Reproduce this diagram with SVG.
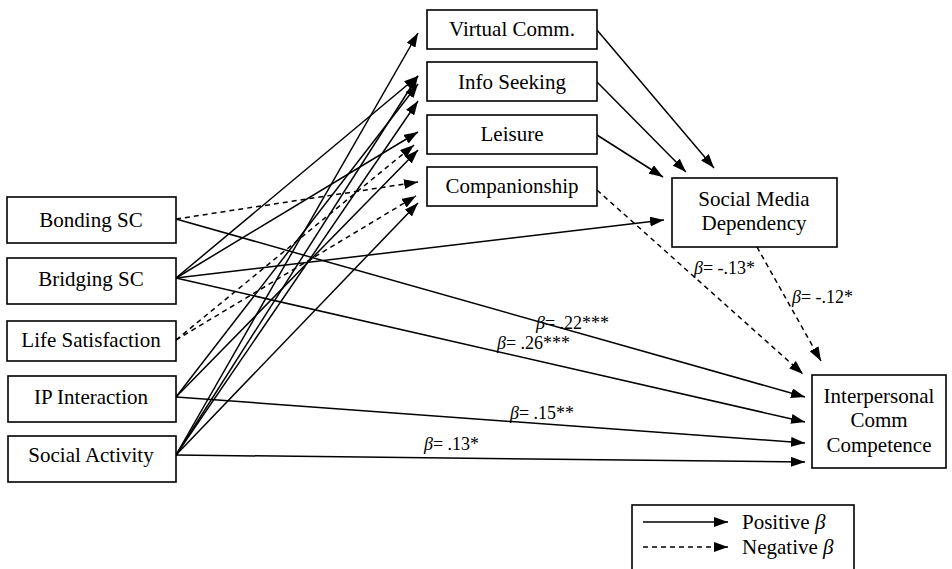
<svg xmlns="http://www.w3.org/2000/svg" width="952" height="569" viewBox="0 0 952 569">
<defs>
<marker id="ah" markerUnits="userSpaceOnUse" markerWidth="14" markerHeight="10" refX="14" refY="5" orient="auto">
<path d="M0,0 L14,5 L0,10 z" fill="#000"/>
</marker>
</defs>
<style>
.box{fill:#fff;stroke:#000;stroke-width:1.6}
.t{font-family:"Liberation Serif","Times New Roman",serif;font-size:21px;fill:#000;text-anchor:middle}
.lab{font-family:"Liberation Serif","Times New Roman",serif;font-size:18px;fill:#000}
.lg{font-family:"Liberation Serif","Times New Roman",serif;font-size:21px;fill:#000}
.b{font-style:italic}
.e{fill:none;stroke:#000;stroke-width:1.5;marker-end:url(#ah)}
.d{stroke-dasharray:5 4}
</style>
<rect width="952" height="569" fill="#fff"/>
<g id="connectors">
<line class="e d" x1="176" y1="219" x2="418" y2="182"/>
<line class="e" x1="176" y1="278" x2="418" y2="76"/>
<line class="e" x1="176" y1="278" x2="418" y2="132"/>
<line class="e d" x1="176" y1="340" x2="414" y2="145"/>
<line class="e d" x1="176" y1="340" x2="416" y2="196"/>
<line class="e" x1="176" y1="397" x2="418" y2="84"/>
<line class="e" x1="176" y1="397" x2="418" y2="150"/>
<line class="e" x1="176" y1="455" x2="418" y2="33"/>
<line class="e" x1="176" y1="455" x2="418" y2="76"/>
<line class="e" x1="176" y1="455" x2="418" y2="101"/>
<line class="e" x1="176" y1="455" x2="418" y2="203"/>
<line class="e" x1="597" y1="30" x2="714" y2="168"/>
<line class="e" x1="597" y1="82" x2="686" y2="172"/>
<line class="e" x1="597" y1="135" x2="663" y2="177"/>
<line class="e" x1="176" y1="278" x2="664" y2="220"/>
<line class="e d" x1="597" y1="190" x2="803" y2="374"/>
<line class="e d" x1="757" y1="247" x2="821" y2="361"/>
<line class="e" x1="176" y1="219" x2="805" y2="397"/>
<line class="e" x1="176" y1="278" x2="805" y2="422"/>
<line class="e" x1="176" y1="397" x2="805" y2="443"/>
<line class="e" x1="176" y1="455" x2="805" y2="462"/>
<text class="lab" x="536" y="329"><tspan class="b">β</tspan>= .22***</text>
<text class="lab" x="497" y="349"><tspan class="b">β</tspan>= .26***</text>
<text class="lab" x="510" y="419"><tspan class="b">β</tspan>= .15**</text>
<text class="lab" x="424" y="450"><tspan class="b">β</tspan>= .13*</text>
<text class="lab" x="694" y="274"><tspan class="b">β</tspan>= -.13*</text>
<text class="lab" x="792" y="303"><tspan class="b">β</tspan>= -.12*</text>
</g>
<g id="bonding"><rect class="box" x="7" y="197" width="169" height="46"/><text class="t" x="91" y="227">Bonding SC</text></g>
<g id="bridging"><rect class="box" x="7" y="258" width="169" height="46"/><text class="t" x="91" y="286">Bridging SC</text></g>
<g id="lifesat"><rect class="box" x="7" y="321" width="169" height="40"/><text class="t" x="91" y="347">Life Satisfaction</text></g>
<g id="ipinter"><rect class="box" x="8" y="376" width="168" height="46"/><text class="t" x="91" y="404">IP Interaction</text></g>
<g id="socact"><rect class="box" x="8" y="436" width="168" height="46"/><text class="t" x="91" y="462">Social Activity</text></g>
<g id="virtual"><rect class="box" x="427" y="10" width="170" height="39"/><text class="t" x="512" y="36">Virtual Comm.</text></g>
<g id="info"><rect class="box" x="427" y="62" width="170" height="39"/><text class="t" x="512" y="89">Info Seeking</text></g>
<g id="leisure"><rect class="box" x="427" y="115" width="170" height="39"/><text class="t" x="512" y="141">Leisure</text></g>
<g id="companion"><rect class="box" x="427" y="167" width="170" height="39"/><text class="t" x="512" y="193">Companionship</text></g>
<g id="smd"><rect class="box" x="672" y="178" width="165" height="69"/><text class="t" x="754" y="206">Social Media</text><text class="t" x="754" y="230">Dependency</text></g>
<g id="icc"><rect class="box" x="812" y="375" width="134" height="93"/><text class="t" x="879" y="403">Interpersonal</text><text class="t" x="879" y="427">Comm</text><text class="t" x="879" y="452">Competence</text></g>
<g id="legend">
<rect class="box" x="632" y="505" width="222" height="75"/>
<line class="e" x1="643" y1="522" x2="728" y2="522"/>
<line class="e d" x1="643" y1="547" x2="728" y2="547"/>
<text class="lg" x="742" y="529">Positive <tspan class="b">β</tspan></text>
<text class="lg" x="742" y="554">Negative <tspan class="b">β</tspan></text>
</g>
</svg>
